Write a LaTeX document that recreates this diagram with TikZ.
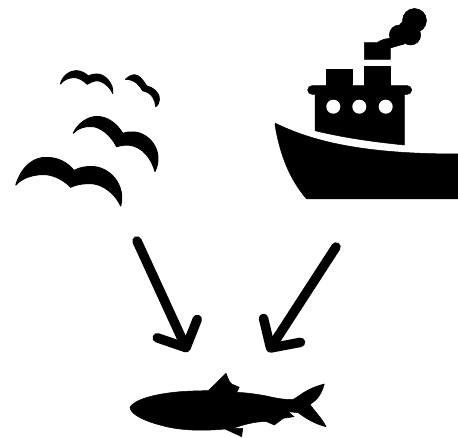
\documentclass[tikz,border=0pt]{standalone}
\usepackage{tikz}
\usetikzlibrary{arrows.meta}
\tikzset{
	silhouette/.style={fill=black,draw=black,line width=.5pt},
	gull/.style={silhouette,line width=1pt,line join=round},
	flow/.style={line width=9.5pt,line cap=round,line join=round,
		-{Straight Barb[round,length=21pt,width=44pt]}}
}

\begin{document}
\begin{tikzpicture}[x=1pt,y=-1pt]
		
		\useasboundingbox (0,0) rectangle (458,438);
		
		% birds
		\fill[gull] (15.8,185) .. controls (22,165) and (35,157) .. (46,157.5)
		.. controls (58,157) and (68,163) .. (74,170.5)
		.. controls (80,167) and (87,166.5) .. (92,166.5)
		.. controls (110,167) and (126,185) .. (120.7,206)
		.. controls (117,197) and (105,183) .. (88,183.5)
		.. controls (80,184) and (75,185) .. (70.7,187.3)
		.. controls (62,178) and (50,174) .. (42,174.5)
		.. controls (32,175) and (22,178) .. (15.8,185) -- cycle;
		
		\fill[gull] (73.2,133.3) .. controls (78,123) and (88,116.5) .. (97,116.5)
		.. controls (108,116.5) and (117,124) .. (122.7,133.3)
		.. controls (126,132) and (130,132) .. (133,132)
		.. controls (148,132) and (165,150) .. (155,171.5)
		.. controls (152,160) and (143,146) .. (128,145)
		.. controls (124,145) and (120,145.5) .. (116.7,146.7)
		.. controls (110,134) and (100,127) .. (92,126.5)
		.. controls (85,126) and (78,128) .. (73.2,133.3) -- cycle;
		
		\fill[gull] (60.5,84) .. controls (62,76) and (70,70.7) .. (76,70.7)
		.. controls (81,70.7) and (85,73) .. (88.3,76)
		.. controls (91,74.5) and (94,74) .. (97,74)
		.. controls (105,74) and (114,84) .. (112.7,93.5)
		.. controls (110,87) and (103,80.5) .. (96,80.7)
		.. controls (93,81) and (90,82.5) .. (87.3,84.3)
		.. controls (84,81) and (79,77.5) .. (74,77.5)
		.. controls (69,77.5) and (63,80) .. (60.5,84) -- cycle;
		
		\fill[gull] (125.5,79.3) .. controls (129,76) and (133,74.5) .. (135,75)
		.. controls (139,75) and (143,80) .. (146.7,86)
		.. controls (152,87) and (160,92) .. (159.3,100)
		.. controls (159.5,103) and (157,106) .. (155.7,106.5)
		.. controls (155.5,100) and (152,92.5) .. (142.7,90.7)
		.. controls (140,86) and (135,79) .. (125.5,79.3) -- cycle;
		
		% ship
		\fill[silhouette] (275,125) .. controls (274,122.5) and (276,123) .. (278,124.5)
		.. controls (315,142) and (365,154) .. (458,154)
		-- (458,199) -- (306.7,199)
		.. controls (290,180) and (280,155) .. (275,125) -- cycle;
		\fill[silhouette] (315,94) -- (404.3,94) -- (404.3,145)
		.. controls (375,142) and (345,138) .. (315,130.7) -- cycle;
		\fill[silhouette,rounded corners=4.3pt] (307.7,85.7) rectangle (411.7,94.3);
		\fill[silhouette] (326.7,69) rectangle (352.3,86);
		\fill[silhouette] (364.3,66.3) rectangle (390.3,86);
		\fill[silhouette] (364.3,42.7) -- (377,42.7) .. controls (382,39) and (388,38) .. (396,38)
		-- (404,44) -- (390.3,48) -- (390.3,59.3) -- (364.3,59.3) -- cycle;
		\fill[silhouette] (414.5,20.5) circle (12);
		\fill[silhouette] (399.3,35) circle (10);
		\fill[silhouette] (410.7,35) circle (10);
		\fill[silhouette] (406,28) circle (7);
		\foreach \wx in {333.3,359.3,385.7}
		\fill[white] (\wx,106.7) circle (7);
		
		% fish
		\fill[silhouette] (130,407.3) .. controls (134,400) and (153,394) .. (180,391.7)
		.. controls (190,391) and (200,390.7) .. (208.3,390.7)
		-- (226,373.3) .. controls (228,378) and (229,382) .. (231.7,384)
		-- (239.3,387.3) -- (236.7,392.3)
		.. controls (250,393) and (258,394.5) .. (266.7,396)
		.. controls (275,398) and (285,400) .. (293.3,399.3)
		.. controls (300,396) and (305,389) .. (324.3,384)
		.. controls (322,392) and (319,399) .. (310,404.3)
		.. controls (315,412) and (322,418) .. (326,426.7)
		.. controls (315,424) and (305,418) .. (298.3,412.7)
		-- (288.3,411.7) -- (294,416.7) -- (283.3,418.3) -- (274.3,425) -- (266.7,421.7)
		.. controls (258,421) and (245,424) .. (233.3,428.3)
		-- (242.7,428.3) -- (241.7,436.7) -- (225,429)
		.. controls (205,431) and (180,431) .. (160,425)
		.. controls (148,422) and (130,415) .. (130,407.3) -- cycle;
		
		% arrows
		\coordinate (birds) at (137,241);
		\coordinate (ship) at (336,247);
		\coordinate (fishleft) at (188,352);
		\coordinate (fishright) at (268,352);
		\draw[flow] (birds) -- (fishleft);
		\draw[flow] (ship) -- (fishright);
		
	\end{tikzpicture}
\end{document}
